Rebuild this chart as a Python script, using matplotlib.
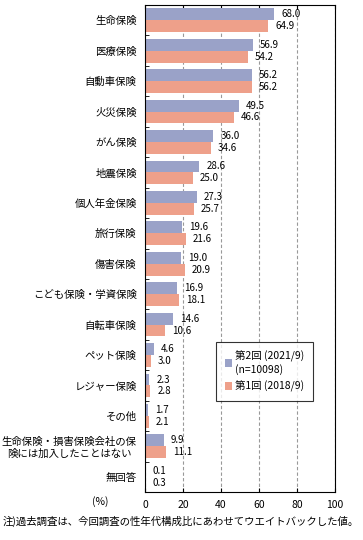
import numpy as np
import matplotlib.pyplot as plt

plt.rcParams['font.family'] = ['Noto Sans CJK JP', 'DejaVu Sans']

# Data
categories = ['生命保険', '医療保険', '自動車保険', '火災保険', 'がん保険', '地震保険',
              '個人年金保険', '旅行保険', '傷害保険', 'こども保険・学資保険', '自転車保険',
              'ペット保険', 'レジャー保険', 'その他',
              '生命保険・損害保険会社の保\n険には加入したことはない', '無回答']
wave2 = [68.0, 56.9, 56.2, 49.5, 36.0, 28.6, 27.3, 19.6, 19.0, 16.9, 14.6, 4.6, 2.3, 1.7, 9.9, 0.1]
wave1 = [64.9, 54.2, 56.2, 46.6, 34.6, 25.0, 25.7, 21.6, 20.9, 18.1, 10.6, 3.0, 2.8, 2.1, 11.1, 0.3]
label2 = '第2回 (2021/9)\n(n=10098)'
label1 = '第1回 (2018/9)'
xticks = [0, 20, 40, 60, 80, 100]

c2 = '#9aa2c8'
c1 = '#eea08a'

fig = plt.figure(figsize=(3.63, 5.40), dpi=100)
ax = fig.add_axes([145 / 363, 1 - 492 / 540, 190 / 363, 487 / 540])

y = np.arange(len(categories))
h = 0.39
b2 = ax.barh(y - h / 2, wave2, height=h, color=c2, label=label2)
b1 = ax.barh(y + h / 2, wave1, height=h, color=c1, label=label1)

for bar, v in zip(b2, wave2):
    ax.annotate(f'{v:.1f}', (v, bar.get_y() + bar.get_height() / 2), xytext=(5, 0),
                textcoords='offset points', va='center', ha='left', fontsize=7)
for bar, v in zip(b1, wave1):
    ax.annotate(f'{v:.1f}', (v, bar.get_y() + bar.get_height() / 2), xytext=(5, 0),
                textcoords='offset points', va='center', ha='left', fontsize=7)

ax.set_xlim(0, 100)
ax.set_ylim(len(categories) - 0.5, -0.5)
ax.set_xticks(xticks)
ax.set_xticklabels([str(t) for t in xticks], fontsize=7.5)
ax.set_yticks(y)
ax.set_yticklabels(categories, fontsize=7.5)
for t in ax.get_yticklabels():
    t.set_multialignment('center')
ax.set_yticks(np.arange(len(categories) + 1) - 0.5, minor=True)
ax.tick_params(axis='y', which='major', length=0, pad=6)
ax.tick_params(axis='y', which='minor', direction='in', length=3)
ax.tick_params(axis='x', direction='in', top=True, length=3, pad=6)
ax.grid(axis='x', color='#999999', linestyle=(0, (3, 2)), linewidth=0.8)
ax.set_axisbelow(True)
for s in ax.spines.values():
    s.set_color('black')
    s.set_linewidth(0.8)

leg = ax.legend(loc='upper left', bbox_to_anchor=(66 / 190, 1 - 332 / 487), fontsize=7.5,
                frameon=True, fancybox=False, edgecolor='black', handlelength=0.7,
                handleheight=0.7, handletextpad=0.3, borderpad=0.8, labelspacing=0.6)
leg.get_frame().set_linewidth(0.8)

fig.text(100 / 363, 1 - 502 / 540, '(%)', fontsize=7.5, ha='center', va='center')
fig.text(3 / 363, 1 - 521 / 540, '注)過去調査は、今回調査の性年代構成比にあわせてウエイトバックした値。',
         fontsize=7.5, ha='left', va='center')

fig.savefig('out.png', dpi=100)
